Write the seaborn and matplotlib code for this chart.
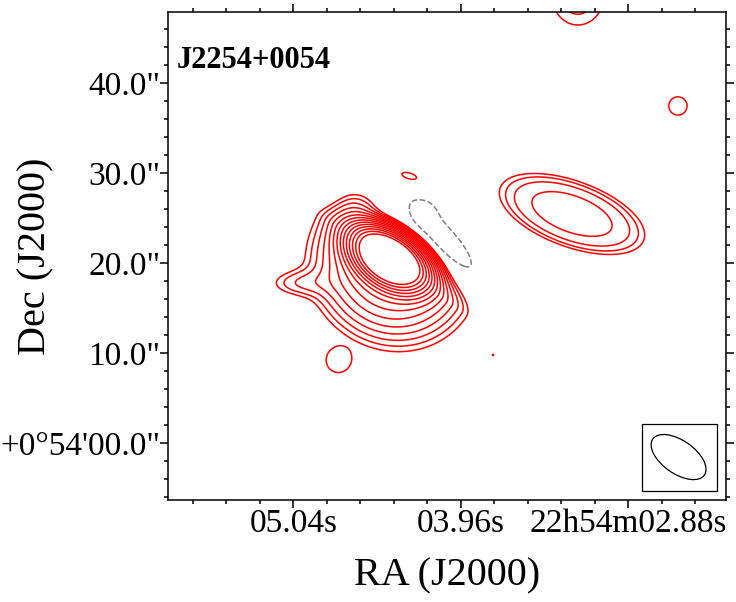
import numpy as np
import matplotlib
matplotlib.use("Agg")
import matplotlib.pyplot as plt
import seaborn as sns
from matplotlib.patches import Ellipse, Rectangle
from matplotlib.transforms import ScaledTranslation
from matplotlib.ticker import FixedLocator, FixedFormatter

# ---------------- data ----------------
source_name = "J2254+0054"
# emission components: RA (seconds after 22h54m), Dec (arcsec after +0d54'),
# major sigma, minor sigma (+ side = NE), minor sigma (- side = SW) [screen arcsec],
# angle (deg), peak (relative), profile power (1 = Gaussian, 2 = flat-topped)
comp_ra    = [4.418, 4.402, 4.644, 4.998, 4.076, 4.192, 3.244, 3.206, 2.561, 4.753, 4.295, 3.753]
comp_dec   = [20.59, 19.59, 25.37, 17.81, 22.92, 25.70, 25.48, 49.81, 37.48, 9.14, 29.70, 9.81]
comp_smaj  = [2.11, 4.20, 1.67, 2.44, 3.33, 1.11, 5.80, 2.67, 1.22, 1.33, 1.44, 0.22]
comp_sneg  = [1.16, 1.33, 1.67, 1.00, 0.89, 1.11, 2.50, 3.07, 1.22, 1.33, 0.56, 0.22]
comp_spos  = [1.33, 3.89, 1.67, 1.00, 0.89, 1.11, 2.50, 3.07, 1.22, 1.33, 0.56, 0.22]
comp_ang   = [-33.7, -34.0, 0.0, 0.0, -47.0, 0.0, -20.0, 0.0, 0.0, 0.0, -15.0, 0.0]
comp_amp   = [1.0, 0.04, 0.006, 0.004, -0.006, -0.003, 0.0078, 0.00447, 0.0035, 0.0029, 0.0030, 0.00256]
comp_pow   = [1, 1, 1, 1, 1, 1, 2, 1, 1, 2, 1, 1]

base_level = 0.00248          # 3 sigma
n_levels = 14                 # sqrt(2) spaced positive levels

x_major = [5.04, 3.96, 2.88]
x_major_labels = ["05.04s", "03.96s", "22h54m02.88s"]
x_minor = [5.688, 5.472, 5.256, 4.824, 4.608, 4.392, 4.176, 3.744, 3.528, 3.312, 3.096, 2.664, 2.448]
y_major = [0, 10, 20, 30, 40]
y_major_labels = ["+0\u00b054'00.0\"", "10.0\"", "20.0\"", "30.0\"", "40.0\""]
y_minor = [-6, -4, -2, 2, 4, 6, 8, 12, 14, 16, 18, 22, 24, 26, 28, 32, 34, 36, 38, 42, 44, 46]

ra_lim = (5.849, 2.251)
dec_lim = (-6.3, 47.92)

beam_major_in = 0.63
beam_minor_in = 0.33
beam_angle = -35

RA_SCALE = 17.23  # screen arcsec per second of RA

# ---------------- model field ----------------
ra = np.linspace(6.0, 2.1, 900)
dec = np.linspace(-8, 54, 720)
RA, DEC = np.meshgrid(ra, dec)
field = np.zeros_like(RA)
for r0, d0, sa, sn, sp, ang, amp, pw in zip(comp_ra, comp_dec, comp_smaj, comp_sneg,
                                            comp_spos, comp_ang, comp_amp, comp_pow):
    dx = (r0 - RA) * RA_SCALE
    dy = DEC - d0
    th = np.deg2rad(ang)
    u = dx * np.cos(th) + dy * np.sin(th)
    v = -dx * np.sin(th) + dy * np.cos(th)
    sb = np.where(v >= 0, sn, sp)
    q = 0.5 * ((u / sa) ** 2 + (v / sb) ** 2)
    field += amp * np.exp(-q ** pw)

pos_levels = base_level * np.sqrt(2.0) ** np.arange(n_levels)

# ---------------- plot ----------------
sns.set_theme(style="ticks")
plt.rcParams["font.family"] = ["Liberation Serif", "DejaVu Serif"]

fig = plt.figure(figsize=(7.36, 6.02), dpi=100)
ax = fig.add_axes([168 / 736, 102 / 602, 558 / 736, 488 / 602])

ax.contour(RA, DEC, field, levels=pos_levels, colors="#ff0000", linewidths=1.1)
ax.contour(RA, DEC, field, levels=[-base_level], colors="#808080", linewidths=1.1,
           linestyles="--")

ax.set_xlim(*ra_lim)
ax.set_ylim(*dec_lim)

ax.xaxis.set_major_locator(FixedLocator(x_major))
ax.xaxis.set_major_formatter(FixedFormatter(x_major_labels))
ax.xaxis.set_minor_locator(FixedLocator(x_minor))
ax.yaxis.set_major_locator(FixedLocator(y_major))
ax.yaxis.set_major_formatter(FixedFormatter(y_major_labels))
ax.yaxis.set_minor_locator(FixedLocator(y_minor))

for s in ax.spines.values():
    s.set_color("black")
    s.set_linewidth(1.1)
    s.set_visible(True)

ax.tick_params(which="both", direction="out", top=True, right=True,
               labeltop=False, labelright=False, color="black", width=1.1,
               labelsize=24, labelcolor="black")
ax.tick_params(which="major", length=5.5)
ax.tick_params(which="minor", length=3)
ax.tick_params(axis="x", which="major", pad=0.5)
ax.tick_params(axis="y", which="major", pad=0)

ax.set_xlabel("RA (J2000)", fontsize=29, color="black")
ax.set_ylabel("Dec (J2000)", fontsize=29, color="black")
ax.xaxis.set_label_coords(0.5, -0.117)
ax.yaxis.set_label_coords(-0.203, 0.5)

ax.text(0.016, 0.885, source_name, transform=ax.transAxes, fontsize=22,
        fontweight="bold", ha="left", va="baseline", color="black")

# beam box and ellipse
ax.add_patch(Rectangle((0.849, 0.018), 0.135, 0.138, transform=ax.transAxes,
                       fill=False, edgecolor="black", linewidth=0.9, zorder=5))
beam_tr = fig.dpi_scale_trans + ScaledTranslation(0.915, 0.088, ax.transAxes)
ax.add_patch(Ellipse((0, 0), beam_major_in, beam_minor_in, angle=beam_angle,
                     transform=beam_tr, fill=False, edgecolor="black",
                     linewidth=0.9, zorder=5))

fig.savefig("out.png", dpi=100, facecolor="white")
